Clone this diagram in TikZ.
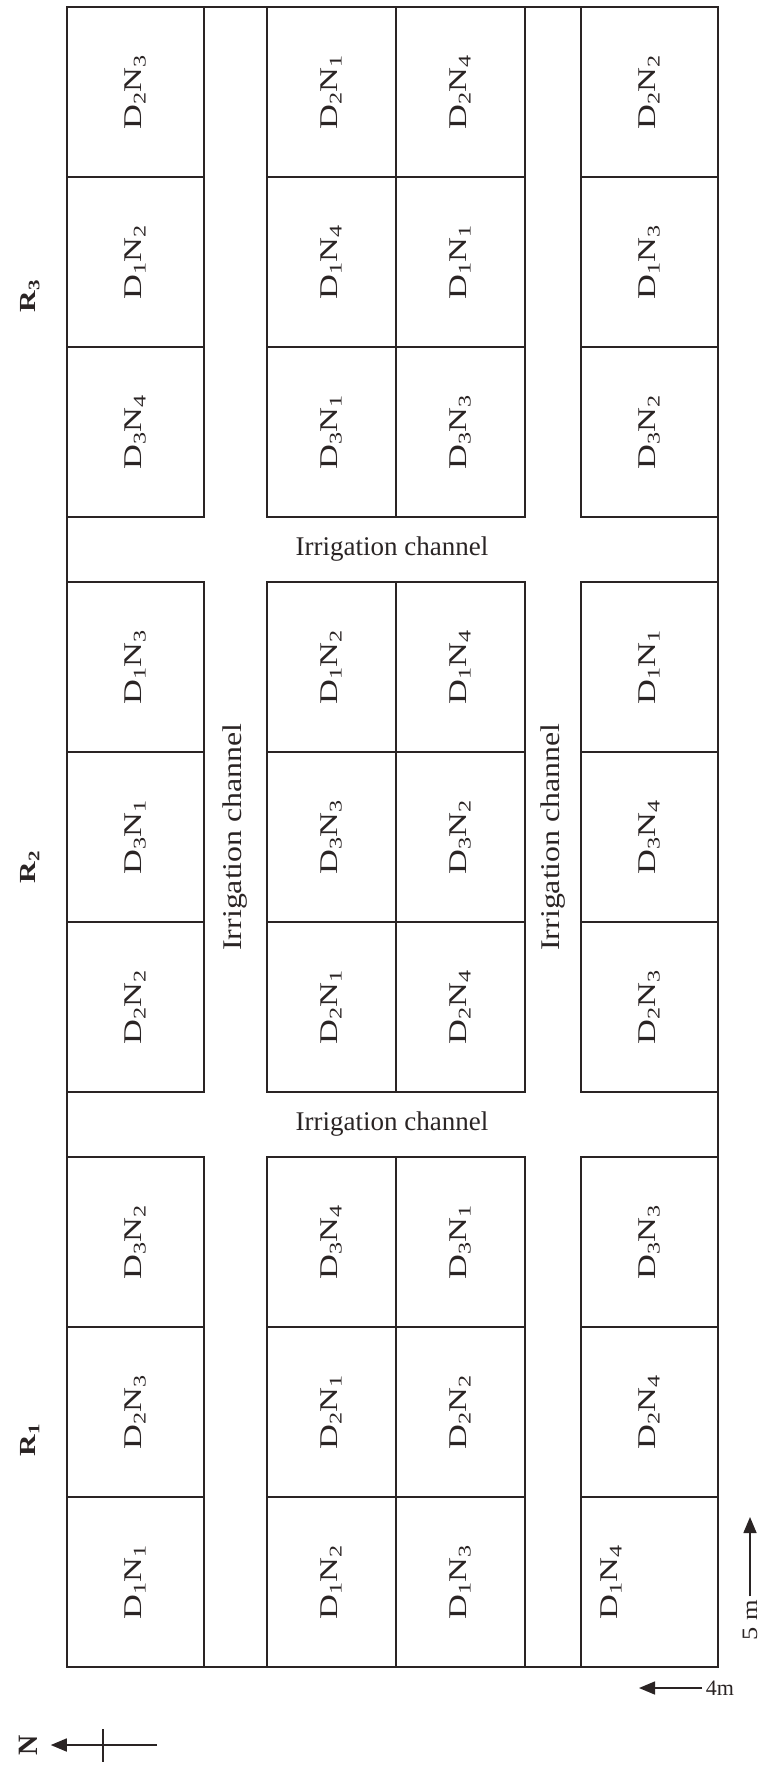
\documentclass[tikz,border=0pt]{standalone}
\usepackage{fontspec}
\setmainfont{Liberation Serif}
\usepackage{graphicx}
\usetikzlibrary{arrows.meta,calc}
\definecolor{inkcol}{HTML}{2A2424}
\newcommand{\stretchtext}[2]{\scalebox{#1}[1]{#2}}

\begin{document}
\begin{tikzpicture}[x=1pt,y=-1pt,inkcol,line width=1.2pt,
  plotlbl/.style={rotate=90,inner sep=0pt,font=\fontsize{25.5}{28}\selectfont},
  replbl/.style={rotate=90,inner sep=0pt,font=\bfseries\fontsize{23}{26}\selectfont},
  chanlbl/.style={inner sep=0pt,font=\fontsize{27}{30}\selectfont},
  scalelbl/.style={inner sep=3pt,font=\fontsize{22}{26}\selectfont},
  arr/.style={-{Triangle[length=16pt,width=13pt]},line width=1.6pt}]
  \useasboundingbox (0,0) rectangle (759,1769);
  % field boundary
  \draw (67,7) rectangle (718,1667);
  % plots, rows top to bottom (R3, R2, R1), columns left to right
  \def\plan{%
    {2/3,2/1,2/4,2/2},{1/2,1/4,1/1,1/3},{3/4,3/1,3/3,3/2},%
    {1/3,1/2,1/4,1/1},{3/1,3/3,3/2,3/4},{2/2,2/1,2/4,2/3},%
    {3/2,3/4,3/1,3/3},{2/3,2/1,2/2,2/4},{1/1,1/2,1/3,1/4}%
  }
  \foreach [count=\r] \row in \plan {
    \pgfmathsetmacro{\yt}{7+int((\r-1)/3)*575+mod(\r-1,3)*170}
    \foreach [count=\c] \dd/\nn in \row {
      \pgfmathsetmacro{\xl}{{67,267,396,581}[\c-1]}
      \pgfmathsetmacro{\xr}{{204,396,525,718}[\c-1]}
      \pgfmathsetmacro{\dx}{(\r==9 && \c==4) ? -38 : 0}
      \draw (\xl,\yt) rectangle (\xr,\yt+170);
      \node[plotlbl] (p\r-\c) at ({(\xl+\xr)/2+\dx},\yt+85)
        {\stretchtext{1.35}{D\textsubscript{\dd}N\textsubscript{\nn}}};
    }
  }
  % irrigation channels
  \node[chanlbl] (ch-top) at (392,549.5) {Irrigation channel};
  \node[chanlbl] (ch-mid) at (392,1124.5) {Irrigation channel};
  \foreach \x [count=\i] in {235.5,553}
    \node[chanlbl,rotate=90] (ch-v\i) at (\x,837) {\stretchtext{1.18}{Irrigation channel}};
  % replications
  \foreach \i/\y in {1/1440,2/867,3/296}
    \node[replbl] (rep\i) at (30,\y) {\stretchtext{1.3}{R\textsubscript{\i}}};
  % north arrow
  \node[rotate=90,inner sep=2pt,font=\bfseries\fontsize{28}{30}\selectfont] (north) at (28,1745) {N};
  \coordinate (ntail) at (157,1745);
  \coordinate (ncross) at (103,1745);
  \draw[arr,shorten >=11pt] (ntail) -- (north);
  \draw (ncross) ++(0,-16) -- ++(0,33);
  % plot size
  \node[scalelbl] (fourm) at (720,1688) {4m};
  \coordinate (fourtip) at (639,1688);
  \draw[arr] (fourm) -- (fourtip);
  \node[scalelbl,rotate=90] (fivem) at (750,1620) {\stretchtext{1.2}{5 m}};
  \coordinate (fivetip) at (750,1517);
  \draw[arr] (fivem) -- (fivetip);
\end{tikzpicture}
\end{document}
